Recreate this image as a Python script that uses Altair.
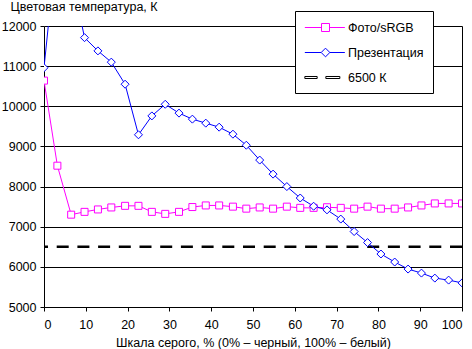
import altair as alt
import pandas as pd

# ---- data ----
gray_pct = [0, 3.2, 6.5, 9.7, 12.9, 16.1, 19.4, 22.6, 25.8, 29.0, 32.3, 35.5, 38.7, 41.9, 45.2, 48.4,
            51.6, 54.8, 58.1, 61.3, 64.5, 67.7, 71.0, 74.2, 77.4, 80.6, 83.9, 87.1, 90.3, 93.5, 96.8, 100]
photo_srgb = [10640, 8520, 7300, 7370, 7430, 7480, 7520, 7520, 7370, 7320, 7370, 7490, 7530, 7530, 7500, 7450,
              7480, 7450, 7500, 7470, 7470, 7485, 7470, 7450, 7500, 7450, 7450, 7480, 7530, 7580, 7580, 7580]
presentation = [10960, 14200, 13300, 11710, 11380, 11100, 10550, 9290, 9760, 10050, 9830, 9680, 9580, 9480, 9305, 9030,
                8660, 8310, 8000, 7715, 7510, 7420, 7190, 6880, 6605, 6320, 6120, 5945, 5845, 5720, 5670, 5600]
target_k = [6500]

series_names = ["Фото/sRGB", "Презентация", "6500 К"]
series_colors = ["#ff00ff", "#0000ff", "#000000"]
x_ticks = [0, 10, 20, 30, 40, 50, 60, 70, 80, 90, 100]
y_ticks = [5000, 6000, 7000, 8000, 9000, 10000, 11000, 12000]

# legend symbols: line + marker (custom symbol paths)
legend_paths = [
    "M-1,0H1.5M2.7,0H5M1.5,-0.6H2.7V0.6H1.5Z",
    "M-1,0H1.45M2.75,0H5M1.45,0L2.1,-0.65L2.75,0L2.1,0.65Z",
    "M-1,-0.15H0.85V0.15H-1ZM2.15,-0.15H4.25V0.15H2.15Z",
]

FONT = "Liberation Sans"
FS = 12.5

df_photo = pd.DataFrame({"gray": gray_pct, "value": photo_srgb, "series": series_names[0]})
df_pres = pd.DataFrame({"gray": gray_pct, "value": presentation, "series": series_names[1]})
df_ref = pd.DataFrame({"value": target_k, "series": series_names[2]})
df_leg = pd.DataFrame({"series": series_names})

stroke_scale = alt.Scale(domain=series_names, range=series_colors)
y_scale = alt.Scale(domain=[5000, 12000], nice=False, zero=False)

x_enc = alt.X("gray:Q",
              scale=alt.Scale(domain=[0, 100], nice=False, zero=False),
              axis=alt.Axis(values=x_ticks, grid=False, tickSize=4, labelPadding=7,
                            domainColor="black", tickColor="black", labelColor="black",
                            labelFont=FONT, labelFontSize=FS,
                            title="Шкала серого, % (0% – черный, 100% – белый)",
                            titleFont=FONT, titleFontSize=FS, titleFontWeight="normal",
                            titleColor="black", titleBaseline="alphabetic", titleY=39.5))
y_left = alt.Y("value:Q", scale=y_scale,
               axis=alt.Axis(values=y_ticks, format="d", grid=True, gridColor="black", gridOpacity=1, gridWidth=1,
                             tickSize=4, labelPadding=4,
                             domainColor="black", tickColor="black", labelColor="black",
                             labelFont=FONT, labelFontSize=FS,
                             title="Цветовая температура, К", titleAngle=0, titleAlign="left",
                             titleBaseline="alphabetic", titleX=-34, titleY=-16,
                             titleFont=FONT, titleFontSize=FS, titleFontWeight="normal",
                             titleColor="black"))
y_right = alt.Y("value:Q", scale=y_scale,
                axis=alt.Axis(orient="right", labels=False, ticks=False, grid=False, domain=True,
                              domainColor="black", title=None))
y_plain = alt.Y("value:Q", scale=y_scale, axis=None)
s_enc = alt.Stroke("series:N", scale=stroke_scale, legend=None)

leg = alt.Legend(title=None, orient="none", legendX=251, legendY=-15, padding=9, zindex=1,
                 strokeColor="black", fillColor="white", symbolSize=178, symbolStrokeWidth=1,
                 symbolOpacity=1,
                 labelOffset=29, labelFont=FONT, labelFontSize=FS, labelColor="black",
                 rowPadding=11)
legend_carrier = alt.Chart(df_leg).mark_point(filled=False, size=178, strokeWidth=1, opacity=1).encode(
    stroke=alt.Stroke("series:N", scale=stroke_scale, legend=leg),
    shape=alt.Shape("series:N", scale=alt.Scale(domain=series_names, range=legend_paths), legend=leg),
).transform_filter("false")

photo_line = alt.Chart(df_photo).mark_line(strokeWidth=1, clip=True).encode(x=x_enc, y=y_left, stroke=s_enc)
pres_line = alt.Chart(df_pres).mark_line(strokeWidth=1, clip=True).encode(x=x_enc, y=y_right, stroke=s_enc)
photo_pts = alt.Chart(df_photo).mark_point(shape="square", filled=True, fill="white",
                                           strokeWidth=1, size=49, opacity=1, clip=True).encode(
    x=x_enc, y=y_plain, stroke=s_enc)
pres_pts = alt.Chart(df_pres).mark_point(shape="diamond", filled=True, fill="white",
                                         strokeWidth=1, size=64, opacity=1, clip=True).encode(
    x=x_enc, y=y_plain, stroke=s_enc)
ref_rule = alt.Chart(df_ref).mark_rule(strokeWidth=2.5, strokeDash=[12, 8.7]).encode(y=y_plain, stroke=s_enc)

chart = alt.layer(legend_carrier, ref_rule, photo_line, pres_line, photo_pts, pres_pts).resolve_axis(
    y="independent"
).properties(
    width=418, height=281,
    autosize=alt.AutoSizeParams(type="none"),
    padding={"left": 44, "top": 26, "right": 10, "bottom": 42},
    background="white",
).configure_view(strokeWidth=0)

chart.save("out.html", embed_options={"renderer": "svg", "actions": False})
